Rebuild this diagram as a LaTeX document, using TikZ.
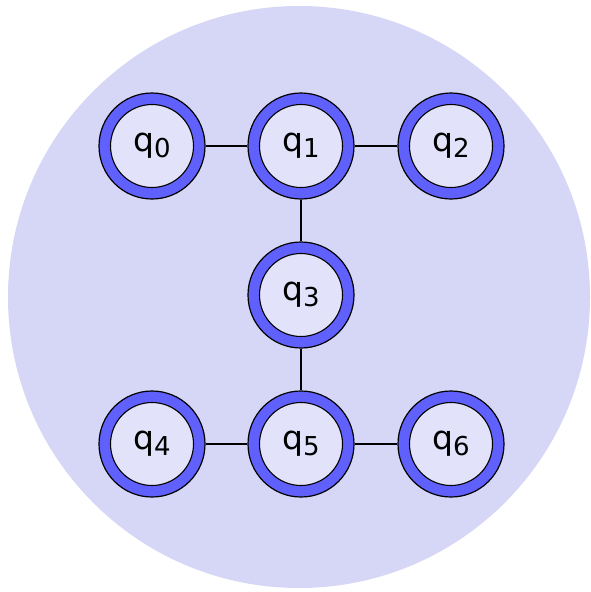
\documentclass[tikz,border=0pt]{standalone}
\usepackage{fontspec}
\setmainfont{DejaVu Sans}
\definecolor{bgblue}{RGB}{214,214,246}
\definecolor{ringblue}{RGB}{96,96,252}
\definecolor{innerfill}{RGB}{226,226,250}
\begin{document}
\begin{tikzpicture}[x=1pt,y=-1pt,
  qnode/.style={circle,draw=black,line width=1.2pt,fill=ringblue,minimum size=106pt,inner sep=0pt},
  qlabel/.style={font=\fontsize{33}{33}\selectfont},
  edge/.style={draw=black,line width=1.3pt}]
\useasboundingbox (0,0) rectangle (590,592);
\fill[bgblue] (299,297) circle (291);
\foreach \n/\x/\y in {0/152/146,1/301/146,2/451/146,3/301/295,4/152/444,5/301/444,6/451/444}{
  \node[qnode] (q\n) at (\x,\y) {};
  \draw[black,line width=1.1pt,fill=innerfill] (q\n.center) circle (41.5);
  \node[qlabel] (l\n) at (\x,\y) {q\raisebox{-6pt}{\fontsize{26}{26}\selectfont\n}};
}
\draw[edge] (q0) -- (q1);
\draw[edge] (q1) -- (q2);
\draw[edge] (q1) -- (q3);
\draw[edge] (q3) -- (q5);
\draw[edge] (q4) -- (q5);
\draw[edge] (q5) -- (q6);
\end{tikzpicture}
\end{document}
